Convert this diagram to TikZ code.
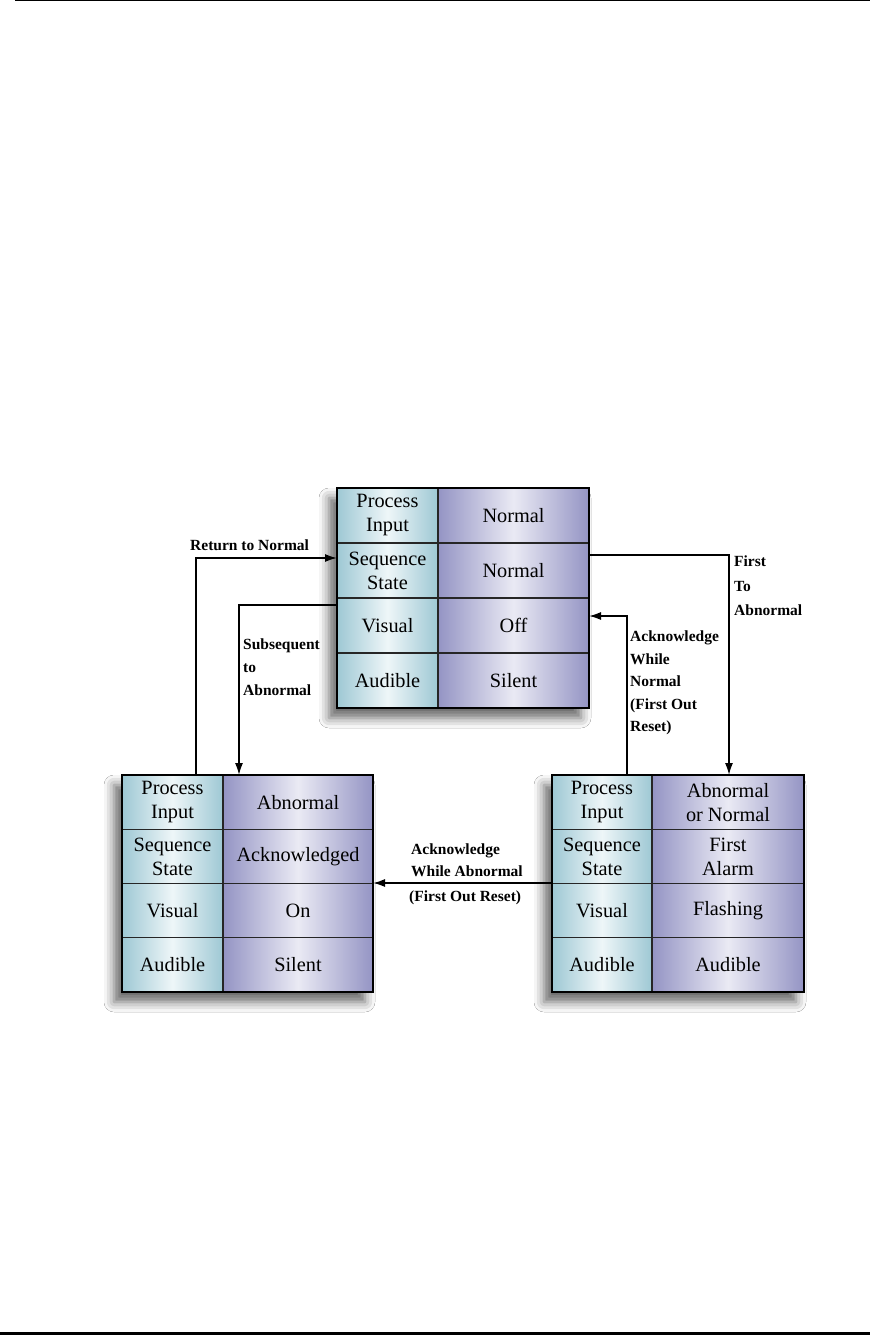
\documentclass[tikz,border=0pt]{standalone}
\usepackage{fontspec}
\setmainfont{Liberation Serif}
\usetikzlibrary{calc,arrows.meta,shadows.blur}
\definecolor{cyanedge}{RGB}{158,200,212}
\definecolor{cyanmid}{RGB}{238,246,248}
\definecolor{violedge}{RGB}{148,148,196}
\definecolor{violmid}{RGB}{234,234,244}
\tikzset{
  frame/.style={draw=black, line width=2pt, inner sep=0pt, outer sep=0pt},
  gridline/.style={draw=black!85, line width=1.2pt},
  celltext/.style={font=\fontsize{20.3}{24}\selectfont, align=center, inner sep=0pt},
  lbl/.style={font=\bfseries\fontsize{15.5}{23}\selectfont, align=left, inner sep=0pt, anchor=north west},
  arr/.style={draw=black, line width=1.6pt, -{Latex[length=12pt,width=8pt]}},
}
% #1 name, #2 left, #3 top, #4 divider, #5 right, #6 bottom
\newcommand\drawstate[6]{%
  \pgfmathsetmacro\sbH{(#6-#3)/4}%
  \pgfmathsetmacro\sbXl{(#2+#4)/2}%
  \pgfmathsetmacro\sbXr{(#4+#5)/2}%
  \pgfmathsetmacro\sbD{#4-#2}%
  \fill[white, blur shadow={shadow xshift=-8pt, shadow yshift=-10pt, shadow blur radius=10pt, shadow opacity=60}] (#2,#3) rectangle (#5,#6);
  \shade[left color=cyanedge, right color=cyanedge, middle color=cyanmid] (#2,#3) rectangle (#4,#6);
  \shade[left color=violedge, right color=violedge, middle color=violmid] (#4,#3) rectangle (#5,#6);
  \node[frame, anchor=north west, minimum width={(#5-#2)*1pt}, minimum height={(#6-#3)*1pt}] (#1) at (#2,#3) {};
  \foreach \i in {1,2,3} {\draw[gridline] ($(#1.north west)+(0,\i*\sbH)$) -- ($(#1.north east)+(0,\i*\sbH)$);}
  \draw[gridline] ($(#1.north west)+(\sbD,0)$) -- ($(#1.south west)+(\sbD,0)$);
  \node[frame, draw, fill=none, anchor=north west, minimum width={(#5-#2)*1pt}, minimum height={(#6-#3)*1pt}] at (#2,#3) {};
  \foreach \i in {1,2,3,4} {%
    \coordinate (#1-l\i) at (\sbXl, {#3+(\i-0.5)*\sbH});
    \coordinate (#1-r\i) at (\sbXr, {#3+(\i-0.5)*\sbH});
  }
  \node[celltext] (#1-tl1) at (#1-l1) {Process\\Input};
  \node[celltext] (#1-tl2) at (#1-l2) {Sequence\\State};
  \node[celltext] (#1-tl3) at (#1-l3) {Visual};
  \node[celltext] (#1-tl4) at (#1-l4) {Audible};
}
\begin{document}
\begin{tikzpicture}[x=1pt, y=-1pt]
\useasboundingbox (0,0) rectangle (870,1335);
\fill[white] (0,0) rectangle (870,1335);
% page rules
\coordinate (ruleTa) at (15,1);
\coordinate (ruleTb) at (870,1);
\coordinate (ruleBa) at (0,1333.5);
\coordinate (ruleBb) at (870,1333.5);
\draw[line width=1pt] (ruleTa) -- (ruleTb);
\draw[line width=2.6pt] (ruleBa) -- (ruleBb);

% states
\drawstate{top}{337}{488}{438}{589}{708}
\node[celltext] (top-tr1) at (top-r1) {Normal};
\node[celltext] (top-tr2) at (top-r2) {Normal};
\node[celltext] (top-tr3) at (top-r3) {Off};
\node[celltext] (top-tr4) at (top-r4) {Silent};

\drawstate{bl}{122}{775}{223}{373}{992}
\node[celltext] (bl-tr1) at (bl-r1) {Abnormal};
\node[celltext] (bl-tr2) at (bl-r2) {Acknowledged};
\node[celltext] (bl-tr3) at (bl-r3) {On};
\node[celltext] (bl-tr4) at (bl-r4) {Silent};

\drawstate{br}{552}{775}{652}{804}{992}
\node[celltext] (br-tr1) at (br-r1) {Abnormal\\or Normal};
\node[celltext] (br-tr2) at (br-r2) {First\\Alarm};
\node[celltext] (br-tr3) at (br-r3) {Flashing};
\node[celltext] (br-tr4) at (br-r4) {Audible};

% connectors
\draw[arr] ($(bl.north west)+(74,0)$) |- ($(top.north west)+(0,70)$);
\draw[arr] ($(top.north west)+(0,117)$) -| ($(bl.north west)+(117,0)$);
\draw[arr] ($(top.north east)+(0,67)$) -| ($(br.north west)+(177,0)$);
\draw[arr] ($(br.north west)+(75,0)$) |- ($(top.north east)+(0,128)$);
\draw[arr] ($(br.north west)+(0,108)$) -- ($(bl.north east)+(0,108)$);

% labels
\node[lbl, anchor=base west] (lRet) at (190,550) {Return to Normal};
\node[lbl] (lSub) at (243,639) {Subsequent\\to\\Abnormal};
\node[lbl, font=\bfseries\fontsize{15.5}{24.5}\selectfont] (lFirst) at (734,556) {First\\To\\Abnormal};
\node[lbl, font=\bfseries\fontsize{15.5}{22.5}\selectfont] (lAckN) at (630,631) {Acknowledge\\While\\Normal\\(First Out\\Reset)};
\node[lbl, font=\bfseries\fontsize{15.5}{22}\selectfont] (lAckA) at (411,844) {Acknowledge\\While Abnormal};
\node[lbl] (lAckA2) at (409,891) {(First Out Reset)};
\end{tikzpicture}
\end{document}
